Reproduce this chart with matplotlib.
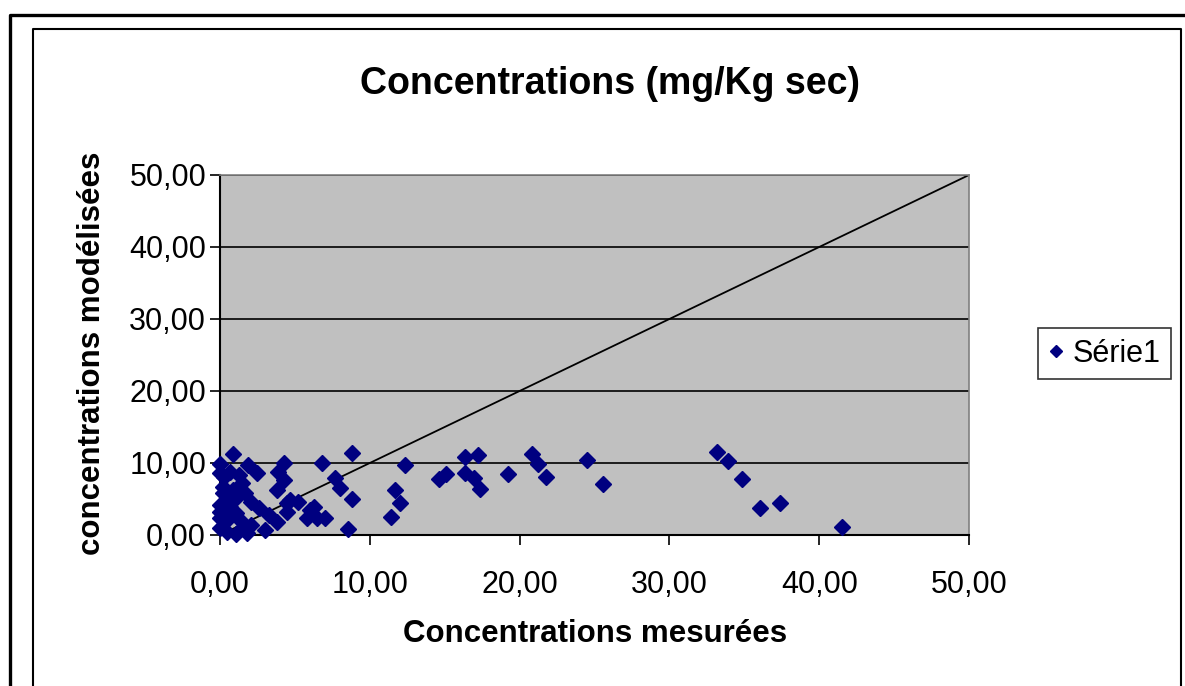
#!/usr/bin/env python

import matplotlib
matplotlib.use("Agg")
import matplotlib.pyplot as plt
from matplotlib.lines import Line2D
from matplotlib.ticker import FuncFormatter, MultipleLocator

plt.rcParams['font.family'] = ['Liberation Sans', 'DejaVu Sans']

mesurees = [0.87, 0.0, 1.9, 2.5, 4.3, 6.8, 8.8, 0.0, 0.67, 1.3,
            1.5, 0.9, 1.7, 3.8, 4.3, 3.9, 0.2, 0.2, 0.0, 2.1,
            2.6, 0.2, 0.0, 1.1, 1.5, 0.5, 0.0, 0.5, 1.8, 3.0,
            3.8, 3.3, 4.5, 4.5, 1.1, 0.7, 0.0, 1.5, 2.1, 5.2,
            4.7, 6.0, 5.8, 6.3, 7.0, 6.5, 8.55, 7.7, 8.0, 8.8,
            12.35, 11.7, 12.0, 11.4, 14.6, 15.1, 16.35, 17.2, 16.35, 16.95,
            17.35, 19.2, 20.8, 21.2, 21.75, 24.5, 25.6, 33.2, 33.9, 34.85,
            36.05, 37.4, 41.5, 0.3, 1.0, 0.6]
modelisees = [11.3, 9.9, 9.7, 8.6, 10.0, 10.0, 11.4, 8.6, 8.75, 8.3,
              7.2, 6.2, 5.8, 6.2, 7.6, 8.8, 5.8, 6.7, 4.2, 4.6,
              3.75, 3.5, 3.2, 3.0, 1.8, 2.1, 1.0, 0.4, 0.3, 0.7,
              1.8, 2.8, 4.4, 3.2, 0.1, 3.9, 2.4, 1.0, 1.4, 4.6,
              4.9, 3.5, 2.4, 3.9, 2.4, 2.4, 0.8, 7.9, 6.5, 5.0,
              9.7, 6.25, 4.4, 2.5, 7.8, 8.5, 10.8, 11.1, 8.6, 7.9,
              6.4, 8.5, 11.25, 9.9, 8.1, 10.4, 7.1, 11.5, 10.3, 7.8,
              3.75, 4.45, 1.1, 8.0, 5.0, 4.8]

diag = [0, 50]

W, H = 1185, 686


def fr(px, py):
    return px / W, 1 - py / H


def virgule(v, pos):
    return f"{v:.2f}".replace(".", ",")


fig = plt.figure(figsize=(W / 100, H / 100), dpi=100)

# outer frames
fig.add_artist(Line2D([10 / W, 10 / W, 1.0], [0, 1 - 15 / H, 1 - 15 / H],
                      transform=fig.transFigure, color="black", lw=2.4))
fig.add_artist(Line2D([33 / W, 33 / W, 1181 / W, 1181 / W],
                      [0, 1 - 29 / H, 1 - 29 / H, 0],
                      transform=fig.transFigure, color="black", lw=1.5))

x0, y1 = fr(220, 175)
x1, y0 = fr(969, 535)
ax = fig.add_axes([x0, y0, x1 - x0, y1 - y0])
ax.set_facecolor("#C0C0C0")

ax.set_xlim(0, 50)
ax.set_ylim(0, 50)
ax.xaxis.set_major_locator(MultipleLocator(10))
ax.yaxis.set_major_locator(MultipleLocator(10))
ax.xaxis.set_major_formatter(FuncFormatter(virgule))
ax.yaxis.set_major_formatter(FuncFormatter(virgule))
ax.grid(axis="y", color="black", lw=1.2)
ax.set_axisbelow(True)
ax.tick_params(labelsize=22, length=7, width=1.2, color="black")
ax.tick_params(axis="x", pad=18)
ax.tick_params(axis="y", pad=3)

for s in ["left", "bottom"]:
    ax.spines[s].set_color("black")
    ax.spines[s].set_linewidth(1.5)
for s in ["top", "right"]:
    ax.spines[s].set_color("#808080")
    ax.spines[s].set_linewidth(1.2)

ax.plot(diag, diag, color="black", lw=1.3, zorder=2)
ax.plot(mesurees, modelisees, ls="none", marker="D", ms=8, color="#000080",
        zorder=3, clip_on=False, label="Série1")

ax.set_xlabel("Concentrations mesurées", fontsize=22.5, fontweight="bold")
ax.set_ylabel("concentrations modélisées", fontsize=22.5, fontweight="bold")
ax.xaxis.label.set_va("center")
ax.yaxis.label.set_va("center")
ax.xaxis.set_label_coords((595 - 220) / 749, (535 - 634) / 360)
ax.yaxis.set_label_coords((92 - 220) / 749, (535 - 353) / 360)

fig.text(610 / W, 1 - 84 / H, "Concentrations (mg/Kg sec)", fontsize=27,
         fontweight="bold", ha="center", va="center")

lx0, ly1 = fr(1037, 327)
lx1, ly0 = fr(1172, 380)
leg = ax.legend(loc="center", bbox_to_anchor=(lx0, ly0, lx1 - lx0, ly1 - ly0),
                bbox_transform=fig.transFigure, fontsize=22, frameon=True,
                fancybox=False, edgecolor="black", handlelength=0.5,
                handletextpad=0.3, borderpad=0.35, markerscale=0.8)
leg.get_frame().set_linewidth(1.2)

fig.savefig("out.png", dpi=100)
